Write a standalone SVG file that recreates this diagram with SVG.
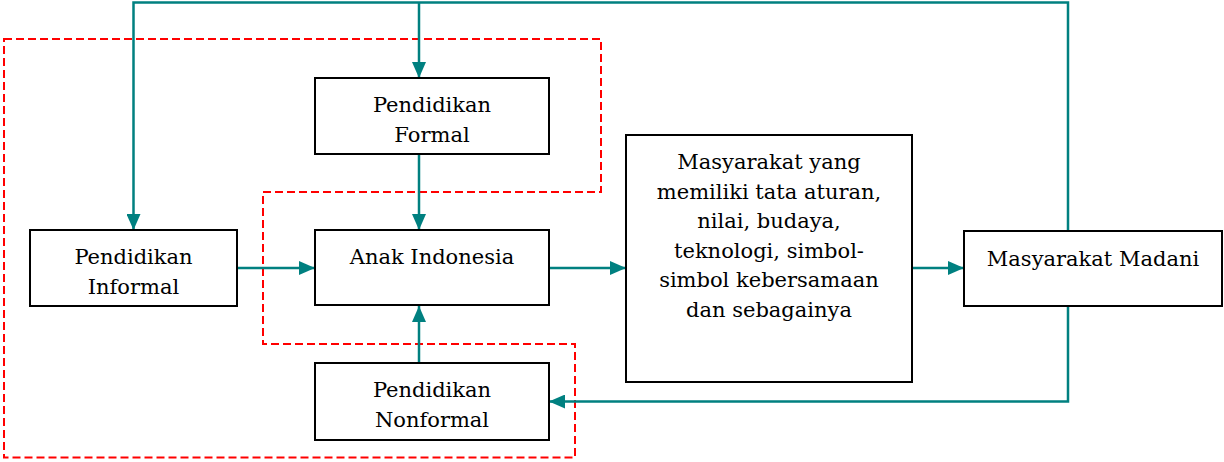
<svg xmlns="http://www.w3.org/2000/svg" width="1224" height="462" viewBox="0 0 1224 462">
<defs>
<style>
.box{fill:#fff;stroke:#000;stroke-width:2}
.lbl{font-family:"DejaVu Serif","Liberation Serif",serif;font-size:21px;fill:#000;text-anchor:middle}
.con{fill:none;stroke:#008080;stroke-width:2.5}
.zone{fill:none;stroke:#ff0000;stroke-width:2;stroke-dasharray:8,4}
</style>
<marker id="ah" markerUnits="userSpaceOnUse" markerWidth="16" markerHeight="14" refX="16" refY="7" orient="auto">
<path d="M0,0 L16,7 L0,14 Z" fill="#008080"/>
</marker>
</defs>
<rect width="1224" height="462" fill="#fff"/>
<g id="zone">
<path class="zone" d="M4,39 H601 V192 H263 V344 H575 V457.5 H4 Z"/>
</g>
<g id="connectors">
<path class="con" d="M1068,231 V2.5 H133.5 V230" marker-end="url(#ah)"/>
<path class="con" d="M419,2.5 V78" marker-end="url(#ah)"/>
<path class="con" d="M419,154 V230" marker-end="url(#ah)"/>
<path class="con" d="M237,268 H315" marker-end="url(#ah)"/>
<path class="con" d="M419,363 V306" marker-end="url(#ah)"/>
<path class="con" d="M549,268 H626" marker-end="url(#ah)"/>
<path class="con" d="M912,268 H964" marker-end="url(#ah)"/>
<path class="con" d="M1068,306 V401.5 H549" marker-end="url(#ah)"/>
</g>
<g id="formal">
<rect class="box" x="315" y="78" width="234" height="76"/>
<text class="lbl" x="432" y="112">Pendidikan</text>
<text class="lbl" x="432" y="142">Formal</text>
</g>
<g id="informal">
<rect class="box" x="30" y="230" width="207" height="76"/>
<text class="lbl" x="133.5" y="264">Pendidikan</text>
<text class="lbl" x="133.5" y="294">Informal</text>
</g>
<g id="anak">
<rect class="box" x="315" y="230" width="234" height="75"/>
<text class="lbl" x="432" y="264">Anak Indonesia</text>
</g>
<g id="nonformal">
<rect class="box" x="315" y="363" width="234" height="77"/>
<text class="lbl" x="432" y="397">Pendidikan</text>
<text class="lbl" x="432" y="427">Nonformal</text>
</g>
<g id="masyarakat">
<rect class="box" x="626" y="135" width="286" height="247"/>
<text class="lbl" x="769" y="169">Masyarakat yang</text>
<text class="lbl" x="769" y="198.5">memiliki tata aturan,</text>
<text class="lbl" x="769" y="228">nilai, budaya,</text>
<text class="lbl" x="769" y="257.5">teknologi, simbol-</text>
<text class="lbl" x="769" y="287">simbol kebersamaan</text>
<text class="lbl" x="769" y="316.5">dan sebagainya</text>
</g>
<g id="madani">
<rect class="box" x="964" y="231" width="258" height="75"/>
<text class="lbl" x="1093" y="265.5">Masyarakat Madani</text>
</g>
</svg>
